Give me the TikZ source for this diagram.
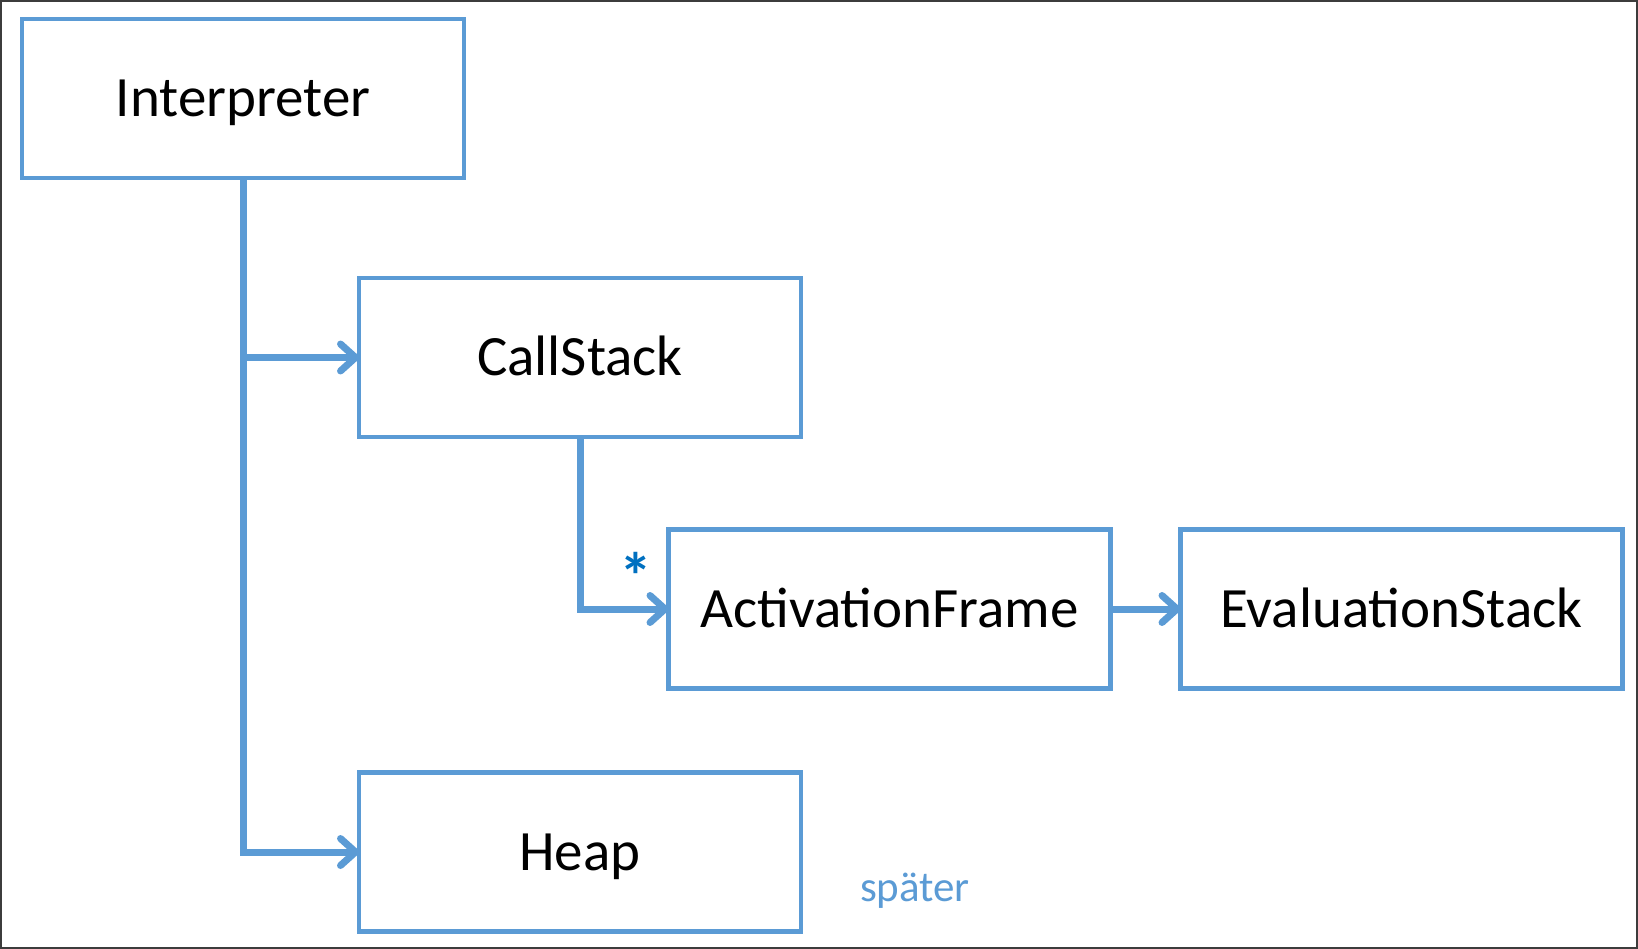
\documentclass[tikz,border=0pt]{standalone}
\usepackage{fontspec}
\setmainfont{Carlito}
\usetikzlibrary{arrows.meta}
\definecolor{boxblue}{RGB}{91,155,213}
\definecolor{starblue}{RGB}{0,112,192}
\definecolor{framegray}{RGB}{60,60,60}
\begin{document}
\begin{tikzpicture}[x=1pt,y=-1pt,
  box/.style={draw=boxblue,line width=4.5pt,minimum width=442pt,minimum height=159pt,
    inner sep=0pt,outer sep=0pt,fill=white,font=\fontsize{57}{68}\selectfont,
    text height=37pt,text depth=0pt},
  conn/.style={draw=boxblue,line width=7pt,line join=miter,
    -{Straight Barb[length=15pt,width=27pt,line cap=round,line join=round]}}]
\useasboundingbox (0,0) rectangle (1638,949);
\draw[line width=2pt,draw=framegray] (1,1) rectangle (1637,948);
\node[box] (interp) at (243,98.5) {Interpreter};
\node[box] (cs) at (580,357.5) {CallStack};
\node[box] (af) at (889.5,609) {ActivationFrame};
\node[box] (es) at (1401.5,609) {EvaluationStack};
\node[box] (heap) at (580,852) {Heap};
\draw[conn] (interp.south) |- (cs.west);
\draw[conn] (interp.south) |- (heap.west);
\draw[conn] (cs.south) |- (af.west);
\draw[conn] (af.east) -- (es.west);
\node[text=starblue,font=\fontsize{66}{70}\selectfont\bfseries,inner sep=0pt] (star) at (636,576) {*};
\node[text=boxblue,font=\fontsize{43}{52}\selectfont,inner sep=0pt] (later) at (915,891) {später};
\end{tikzpicture}
\end{document}
